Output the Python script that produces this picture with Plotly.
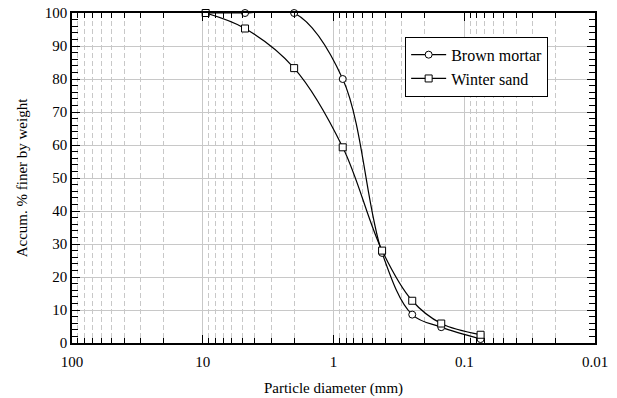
import plotly.graph_objects as go

# Data
sizes_mortar = [9.5, 4.75, 2.0, 0.85, 0.425, 0.25, 0.15, 0.075]
finer_mortar = [100, 100, 100, 80, 27.3, 8.6, 4.8, 1.2]
sizes_sand = [9.5, 4.75, 2.0, 0.85, 0.425, 0.25, 0.15, 0.075]
finer_sand = [100, 95.3, 83.3, 59.3, 28.0, 12.8, 5.9, 2.5]
x_tick_vals = [100, 10, 1, 0.1, 0.01]
x_tick_text = ["100", "10", "1", "0.1", "0.01"]

minor_vals = [m * 10 ** e for e in range(-2, 2) for m in range(2, 10)]

FONT = "Times New Roman, Liberation Serif, DejaVu Serif, serif"

fig = go.Figure()
fig.add_trace(go.Scatter(
    x=sizes_mortar, y=finer_mortar, name="Brown mortar",
    mode="lines+markers", line=dict(color="black", width=1.2, shape="spline", smoothing=1.0),
    marker=dict(symbol="circle", size=7, color="white", line=dict(color="black", width=1)),
    cliponaxis=False,
))
fig.add_trace(go.Scatter(
    x=sizes_sand, y=finer_sand, name="Winter sand",
    mode="lines+markers", line=dict(color="black", width=1.2, shape="spline", smoothing=1.0),
    marker=dict(symbol="square", size=7, color="white", line=dict(color="black", width=1)),
    cliponaxis=False,
))

fig.update_layout(
    width=617, height=398,
    margin=dict(l=72, r=22, t=13, b=55),
    paper_bgcolor="white", plot_bgcolor="white",
    font=dict(family=FONT, size=14, color="black"),
    showlegend=True,
    legend=dict(x=0.637, y=0.928, xanchor="left", yanchor="top",
                bordercolor="black", borderwidth=1, bgcolor="white",
                font=dict(family=FONT, size=16), tracegroupgap=0,
                itemwidth=35),
    xaxis=dict(
        type="log", range=[2, -2], automargin=False,
        tickmode="array", tickvals=x_tick_vals, ticktext=x_tick_text,
        ticks="inside", ticklen=8, tickwidth=1, tickcolor="black",
        ticklabelstandoff=4,
        showgrid=True, gridcolor="#c8c8c8", gridwidth=1,
        showline=True, linecolor="black", linewidth=1.5, mirror="ticks",
        zeroline=False,
        minor=dict(tickmode="array", tickvals=minor_vals, ticks="inside", ticklen=5,
                   tickcolor="black", showgrid=True, gridcolor="#c8c8c8",
                   griddash="5px,3px", gridwidth=1),
        title=dict(text="Particle diameter (mm)", font=dict(family=FONT, size=15), standoff=14),
        tickfont=dict(family=FONT, size=15),
    ),
    yaxis=dict(
        range=[0, 100], dtick=10, tick0=0, automargin=False,
        ticks="inside", ticklen=8, tickwidth=1, tickcolor="black",
        showgrid=True, gridcolor="#c8c8c8", gridwidth=1,
        showline=True, linecolor="black", linewidth=1.5, mirror="ticks",
        zeroline=False,
        minor=dict(dtick=2, ticks="inside", ticklen=6, tickcolor="black", showgrid=False),
        title=dict(text="Accum. % finer by weight", font=dict(family=FONT, size=15), standoff=14),
        tickfont=dict(family=FONT, size=15),
    ),
)

fig.write_html("out.html", config={"displayModeBar": False},
               post_script="document.body.style.margin='0';")
